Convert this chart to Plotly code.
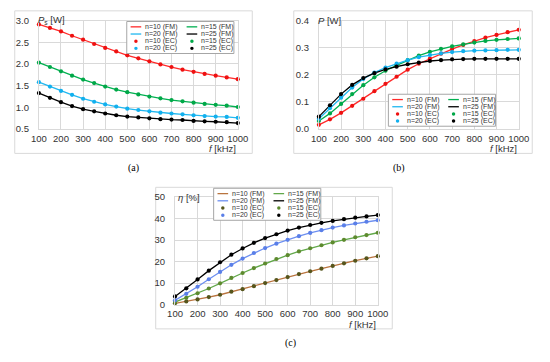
import plotly.graph_objects as go

W, H = 550, 362

# ---------------- data ----------------
freq = [100, 150, 200, 250, 300, 350, 400, 450, 500, 550,
        600, 650, 700, 750, 800, 850, 900, 950, 1000]

series_names = ["n=10", "n=15", "n=20", "n=25"]

# (a) Ps [W]
ps_n10 = [2.91, 2.83, 2.75, 2.65, 2.56, 2.46, 2.37, 2.29, 2.20, 2.13,
          2.06, 1.99, 1.93, 1.87, 1.82, 1.77, 1.73, 1.69, 1.65]
ps_n15 = [2.03, 1.93, 1.83, 1.73, 1.64, 1.56, 1.48, 1.41, 1.35, 1.30,
          1.25, 1.21, 1.17, 1.14, 1.11, 1.08, 1.06, 1.04, 1.01]
ps_n20 = [1.58, 1.48, 1.38, 1.29, 1.20, 1.13, 1.07, 1.02, 0.97, 0.94,
          0.91, 0.88, 0.86, 0.84, 0.82, 0.80, 0.79, 0.78, 0.76]
ps_n25 = [1.33, 1.22, 1.12, 1.03, 0.96, 0.91, 0.86, 0.82, 0.79, 0.77,
          0.75, 0.73, 0.72, 0.71, 0.69, 0.68, 0.67, 0.66, 0.64]

# (b) P [W]
p_n10 = [0.016, 0.036, 0.060, 0.086, 0.112, 0.140, 0.167, 0.193, 0.219, 0.241,
         0.260, 0.278, 0.295, 0.310, 0.324, 0.337, 0.347, 0.357, 0.366]
p_n15 = [0.030, 0.058, 0.093, 0.129, 0.162, 0.191, 0.215, 0.235, 0.254, 0.271,
         0.285, 0.296, 0.305, 0.312, 0.319, 0.325, 0.329, 0.332, 0.334]
p_n20 = [0.038, 0.077, 0.116, 0.153, 0.185, 0.208, 0.227, 0.241, 0.254, 0.265,
         0.273, 0.279, 0.284, 0.287, 0.289, 0.290, 0.291, 0.292, 0.292]
p_n25 = [0.046, 0.088, 0.129, 0.163, 0.188, 0.206, 0.220, 0.230, 0.239, 0.245,
         0.251, 0.254, 0.257, 0.258, 0.259, 0.259, 0.259, 0.259, 0.259]

# (c) eta [%]
eta_n10 = [0.6, 1.5, 2.4, 3.5, 4.6, 6.0, 7.2, 8.6, 10.0, 11.4,
           12.8, 14.2, 15.5, 16.7, 18.0, 19.2, 20.4, 21.5, 22.5]
eta_n15 = [1.2, 3.2, 5.3, 7.5, 9.9, 12.4, 14.7, 17.0, 19.1, 21.2,
           23.0, 24.7, 26.2, 27.6, 28.9, 30.1, 31.3, 32.3, 33.4]
eta_n20 = [2.0, 5.0, 8.3, 11.8, 15.2, 18.5, 21.4, 24.0, 26.3, 28.3,
           30.1, 31.8, 33.3, 34.6, 35.8, 36.8, 37.7, 38.5, 39.2]
eta_n25 = [3.8, 7.6, 11.7, 15.8, 19.7, 23.2, 26.1, 28.7, 30.9, 32.7,
           34.4, 35.8, 37.0, 38.0, 38.9, 39.7, 40.4, 41.0, 41.6]

panel_a = [ps_n10, ps_n15, ps_n20, ps_n25]
panel_b = [p_n10, p_n15, p_n20, p_n25]
panel_c = [eta_n10, eta_n15, eta_n20, eta_n25]

# ---------------- styles ----------------
col_ab_line = ["#ff2a2a", "#00b050", "#22b8f0", "#000000"]
col_ab_mark = ["#ee1111", "#00a848", "#11b0ee", "#000000"]
col_c_line = ["#b9743e", "#62a84a", "#6d8ff0", "#000000"]
col_c_mark = ["#55551c", "#5d8a2e", "#5a7fe8", "#000000"]

SANS = "Liberation Sans, Arial, sans-serif"
SERIF = "Liberation Serif, Times New Roman, serif"
GRID = "#d9d9d9"
TXT = "#333333"


def px(x):
    return x / W


def py(y):
    return 1 - y / H


fig = go.Figure()


def add_panel(data, xa, ya, lcols, mcols):
    for i, vals in enumerate(data):
        fig.add_trace(go.Scatter(
            x=freq, y=vals, mode="lines", xaxis=xa, yaxis=ya,
            line=dict(color=lcols[i], width=1.3),
            name=series_names[i] + " (FM)", showlegend=False,
            cliponaxis=False, hoverinfo="skip"))
    for i, vals in enumerate(data):
        fig.add_trace(go.Scatter(
            x=freq, y=vals, mode="markers", xaxis=xa, yaxis=ya,
            marker=dict(color=mcols[i], size=4.2, line=dict(width=0)),
            name=series_names[i] + " (EC)", showlegend=False,
            cliponaxis=False, hoverinfo="skip"))


add_panel(panel_a, "x", "y", col_ab_line, col_ab_mark)
add_panel(panel_b, "x2", "y2", col_ab_line, col_ab_mark)
add_panel(panel_c, "x3", "y3", col_c_line, col_c_mark)


def xaxis(domain, anchor):
    return dict(domain=domain, anchor=anchor, range=[100, 1000], tick0=100, dtick=100,
                showgrid=True, gridcolor=GRID, gridwidth=1, showline=True,
                linecolor=GRID, linewidth=1, mirror=True, zeroline=False, ticks="",
                tickfont=dict(family=SANS, size=9.5, color=TXT), ticklabelstandoff=0,
                fixedrange=True)


def yaxis(domain, anchor, rng, dtick, fmt):
    return dict(domain=domain, anchor=anchor, range=rng, dtick=dtick, tick0=rng[0],
                tickformat=fmt, showgrid=True, gridcolor=GRID, gridwidth=1,
                showline=True, linecolor=GRID, linewidth=1, mirror=True,
                zeroline=False, ticks="",
                tickfont=dict(family=SANS, size=9.5, color=TXT), ticklabelstandoff=7,
                fixedrange=True)


# plot areas in pixels
A = dict(x0=32, x1=238, y0=15, y1=127)
B = dict(x0=322, x1=529, y0=15, y1=127)
C = dict(x0=173, x1=383, y0=197, y1=308)


def dom_x(r):
    return [px(r["x0"]), px(r["x1"])]


def dom_y(r):
    return [py(r["y1"]), py(r["y0"])]


fig.update_layout(
    width=W, height=H, margin=dict(l=0, r=0, t=0, b=0),
    paper_bgcolor="white", plot_bgcolor="white", showlegend=False,
    xaxis=xaxis(dom_x(A), "y"),
    yaxis=yaxis(dom_y(A), "x", [0.5, 3.0], 0.5, ".1f"),
    xaxis2=xaxis(dom_x(B), "y2"),
    yaxis2=yaxis(dom_y(B), "x2", [0, 0.4], 0.1, ".1f"),
    xaxis3=xaxis(dom_x(C), "y3"),
    yaxis3=yaxis(dom_y(C), "x3", [0, 50], 10, "d"),
)

shapes = []
annotations = []

# outer panel frames
for (x0, y0, x1, y1) in [(7, 5, 253, 152), (296, 5, 543, 152), (153, 187, 398, 333)]:
    shapes.append(dict(type="rect", xref="paper", yref="paper",
                       x0=px(x0), x1=px(x1), y0=py(y1), y1=py(y0),
                       line=dict(color="#d9d9d9", width=1), layer="below"))


def txt(x, y, s, size=9.5, anchor="left", font=SANS, color=TXT, yanchor="middle"):
    annotations.append(dict(xref="paper", yref="paper", x=px(x), y=py(y), text=s,
                            showarrow=False, xanchor=anchor, yanchor=yanchor,
                            font=dict(family=font, size=size, color=color)))


# axis titles
txt(238, 147, "<i>f</i> [kHz]", anchor="right")
txt(529, 147, "<i>f</i> [kHz]", anchor="right")
txt(383, 328, "<i>f</i> [kHz]", anchor="right")
txt(29, 14, "<i>P</i><sub>s</sub> [W]")
txt(319, 15, "<i>P</i> [W]")
txt(174, 198, "<i>η</i> [%]")

# captions
txt(130, 167, "(a)", size=10, anchor="center", font=SERIF, color="#000000")
txt(405, 167, "(b)", size=10, anchor="center", font=SERIF, color="#000000")
txt(293, 348, "(c)", size=10, anchor="center", font=SERIF, color="#000000")


def add_legend(bx, by, lcols, mcols):
    bw, bh = 111, 33
    shapes.append(dict(type="rect", xref="paper", yref="paper",
                       x0=px(bx), x1=px(bx + bw), y0=py(by + bh), y1=py(by),
                       line=dict(color="#a6a6a6", width=1), fillcolor="white",
                       layer="above"))
    cols = [[(0, "FM"), (2, "FM"), (0, "EC"), (2, "EC")],
            [(1, "FM"), (3, "FM"), (1, "EC"), (3, "EC")]]
    for c, items in enumerate(cols):
        lx = bx + (4 if c == 0 else 62)
        for r, (si, kind) in enumerate(items):
            yy = by + 5.5 + r * 7.4
            if kind == "FM":
                shapes.append(dict(type="line", xref="paper", yref="paper",
                                   x0=px(lx), x1=px(lx + 11), y0=py(yy), y1=py(yy),
                                   line=dict(color=lcols[si], width=1.3), layer="above"))
            else:
                cx = lx + 5.5
                shapes.append(dict(type="circle", xref="paper", yref="paper",
                                   x0=px(cx - 1.8), x1=px(cx + 1.8),
                                   y0=py(yy + 1.8), y1=py(yy - 1.8),
                                   fillcolor=mcols[si], line=dict(width=0),
                                   layer="above"))
            txt(lx + 13, yy, f"{series_names[si]} ({kind})", size=7, color="#333333")


add_legend(123, 16, col_ab_line, col_ab_mark)
add_legend(394, 91, col_ab_line, col_ab_mark)
add_legend(213, 188, col_c_line, col_c_mark)

fig.update_layout(shapes=shapes, annotations=annotations)

fig.write_html("out.html", config={"displayModeBar": False, "staticPlot": True},
               post_script="document.body.style.margin='0';document.body.style.overflow='hidden';")
